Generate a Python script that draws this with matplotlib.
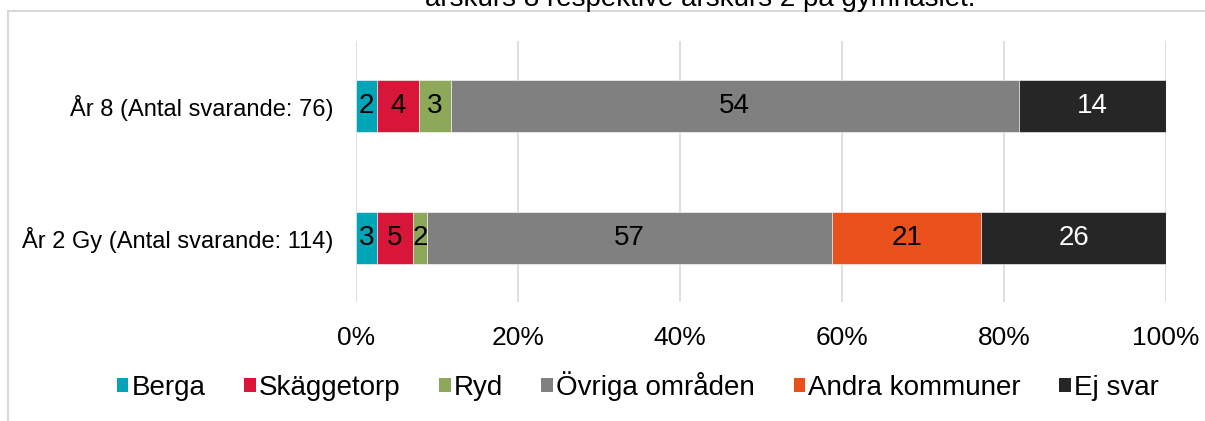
import matplotlib
matplotlib.use("Agg")
import matplotlib.pyplot as plt
from matplotlib.patches import Patch
from matplotlib.lines import Line2D
import numpy as np

plt.rcParams['font.family'] = ['Liberation Sans', 'DejaVu Sans']

categories = ["År 2 Gy (Antal svarande: 114)", "År 8 (Antal svarande: 76)"]
series_names = ["Berga", "Skäggetorp", "Ryd", "Övriga områden", "Andra kommuner", "Ej svar"]
values = {
    "Berga":          [3, 2],
    "Skäggetorp":     [5, 4],
    "Ryd":            [2, 3],
    "Övriga områden": [57, 54],
    "Andra kommuner": [21, 0],
    "Ej svar":        [26, 14],
}
colors = ["#00A6B8", "#D7163A", "#8EA85A", "#808080", "#E9501C", "#262626"]
label_colors = ["black", "black", "black", "black", "black", "white"]
xticks = [0, 0.2, 0.4, 0.6, 0.8, 1.0]
xtick_labels = ["0%", "20%", "40%", "60%", "80%", "100%"]
title = "årskurs 8 respektive årskurs 2 på gymnasiet."

W, H = 1205, 421
fig = plt.figure(figsize=(W / 100, H / 100), dpi=100)
ax = fig.add_axes([356 / W, 1 - 302 / H, 810 / W, 261 / H])

totals = np.sum([values[s] for s in series_names], axis=0)
y = np.arange(len(categories))
left = np.zeros(len(categories))
for s, c, lc in zip(series_names, colors, label_colors):
    v = np.array(values[s], dtype=float)
    frac = v / totals
    bars = ax.barh(y, frac, left=left, height=0.394, color=c, edgecolor="white", linewidth=0.4, zorder=3)
    for b, val in zip(bars, v):
        if val > 0:
            ax.text(b.get_x() + b.get_width() / 2, b.get_y() + b.get_height() / 2, f"{int(val)}",
                    ha="center", va="center", fontsize=20, color=lc, zorder=4)
    left += frac

ax.set_xlim(0, 1)
ax.set_ylim(-0.485, 1.49)
ax.set_xticks(xticks)
ax.set_xticklabels(xtick_labels, fontsize=19)
ax.set_yticks(y)
ax.set_yticklabels(categories, fontsize=17)
ax.tick_params(axis="both", length=0)
ax.tick_params(axis="x", pad=17)
ax.tick_params(axis="y", pad=16)
ax.grid(axis="x", color="#D9D9D9", linewidth=1.2, zorder=0)
ax.set_axisbelow(True)
for sp in ax.spines.values():
    sp.set_visible(False)

# chart frame (partially visible)
fig.add_artist(Line2D([8 / W, 8 / W], [0, 1 - 11 / H], color="#D9D9D9", linewidth=1.5, transform=fig.transFigure))
fig.add_artist(Line2D([8 / W, 1.01], [1 - 11 / H, 1 - 11 / H], color="#D9D9D9", linewidth=1.5, transform=fig.transFigure))

fig.text(700 / W, 1 - 6 / H, title, ha="center", va="baseline", fontsize=20)

handles = [Patch(facecolor=c, edgecolor="none") for c in colors]
fig.legend(handles, series_names, loc="center", bbox_to_anchor=(638 / W, 1 - 386 / H), ncol=6,
           frameon=False, fontsize=20, handlelength=0.42, handleheight=0.42, handletextpad=0.12,
           columnspacing=1.38, borderpad=0)

fig.savefig("out.png", dpi=100)
